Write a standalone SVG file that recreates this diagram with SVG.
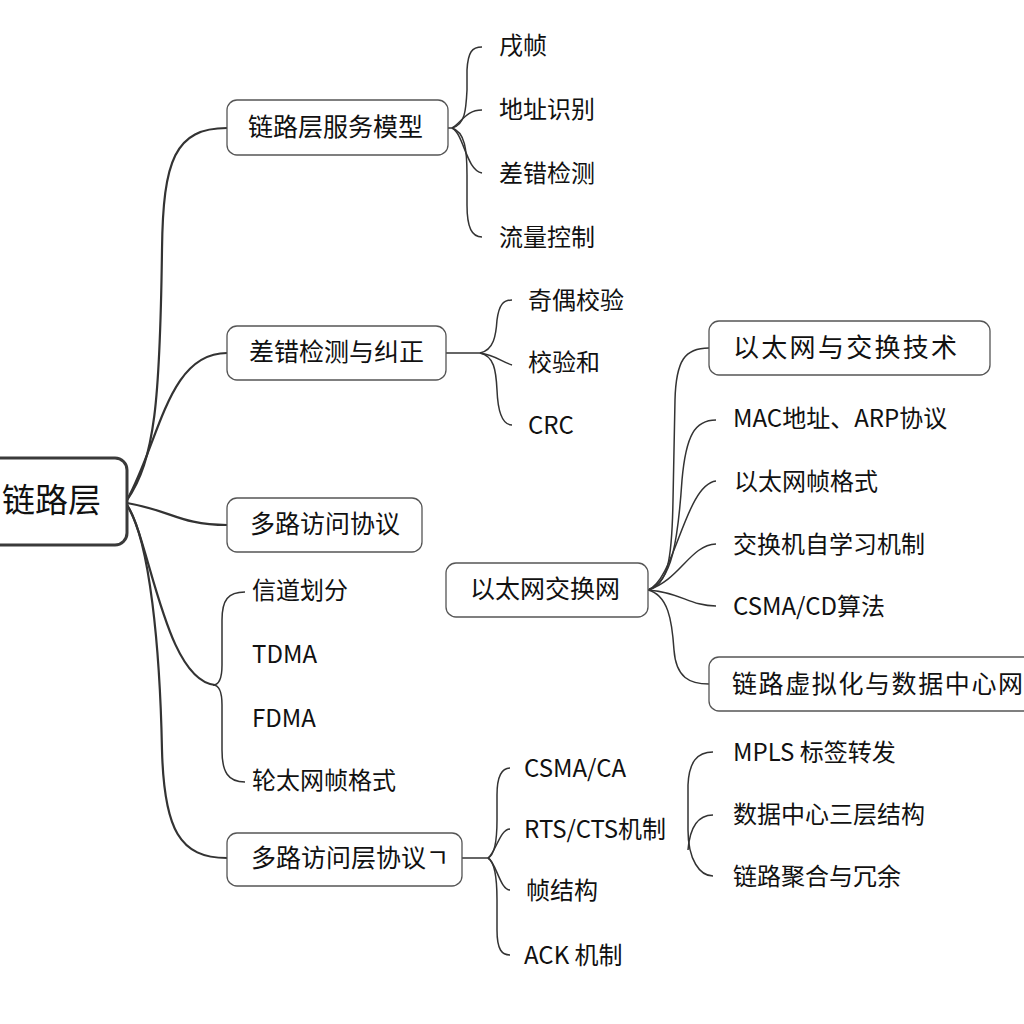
<svg xmlns="http://www.w3.org/2000/svg" width="1024" height="1024" viewBox="0 0 1024 1024">
<style>
text{font-family:"Noto Sans CJK SC","Noto Sans",sans-serif;fill:#111;dominant-baseline:central}
.box{fill:#fff;stroke:#555;stroke-width:1.3}
.root{fill:#fff;stroke:#3a3a3a;stroke-width:3}
.c1{fill:none;stroke:#333;stroke-width:2.2}
.c2{fill:none;stroke:#333;stroke-width:1.5}
.t1{font-size:25px}
.t2{font-size:24px}
</style>
<rect width="1024" height="1024" fill="#fff"/>
<g id="connectors">
<path class="c1" d="M127,500 C155,460 160,400 162,250 C163,160 175,128 227,128"/>
<path class="c1" d="M127,500 C160,440 168,353 227,353"/>
<path class="c1" d="M127,503 C170,510 180,525 227,525"/>
<path class="c1" d="M127,505 C150,540 165,680 215,685"/>
<path class="c1" d="M127,505 C150,540 160,650 162,750 C164,830 180,858 227,858"/>
<path class="c2" d="M448,128 L453,128"/>
<path class="c2" d="M452,128 C465,125 466,110 467,90 L467,70 C468,52 472,47 482,47"/>
<path class="c2" d="M452,128 C462,122 466,110 482,110"/>
<path class="c2" d="M452,128 C464,134 466,170 482,173"/>
<path class="c2" d="M452,128 C465,132 467,150 467,175 L467,205 C467,228 472,237 482,237"/>
<path class="c2" d="M446,353 L482,353"/>
<path class="c2" d="M480,353 C494,350 496,335 497,320 C499,305 503,300 512,300"/>
<path class="c2" d="M480,353 C495,355 502,362 512,365"/>
<path class="c2" d="M480,353 C494,356 496,370 497,390 C498,415 503,425 512,425"/>
<path class="c2" d="M245,592 C228,592 222,600 222,620 L222,665 C222,680 218,685 213,685 C218,685 222,690 222,705 L222,750 C222,772 228,782 245,782"/>
<path class="c2" d="M462,858 L488,858"/>
<path class="c2" d="M488,858 C495,855 497,840 497,820 L497,795 C497,775 502,768 510,768"/>
<path class="c2" d="M488,858 C496,852 500,829 510,829"/>
<path class="c2" d="M488,858 C496,862 500,890 510,890"/>
<path class="c2" d="M488,858 C495,862 497,880 497,900 L497,930 C497,950 502,955 510,955"/>
<path class="c2" d="M648,590 C668,585 672,560 673,500 L675,400 C676,360 685,348 709,348"/>
<path class="c2" d="M648,590 C672,582 678,540 682,480 C686,435 695,420 716,420"/>
<path class="c2" d="M648,590 C675,580 685,485 716,481"/>
<path class="c2" d="M648,590 C680,580 690,545 716,544"/>
<path class="c2" d="M648,590 C680,592 690,606 716,606"/>
<path class="c2" d="M648,590 C668,595 672,620 674,650 C676,678 690,684 709,684"/>
<path class="c2" d="M713,752 C697,752 689,762 688,785 L688,830 C688,860 700,876 713,876"/>
<path class="c2" d="M688,850 C690,825 700,815 713,815"/>
</g>
<g id="root"><rect class="root" x="-12" y="458" width="139" height="87" rx="12"/><text x="2" y="498" style="font-size:33px">链路层</text></g>
<g id="n1"><rect class="box" x="227" y="100" width="221" height="55" rx="10"/><text class="t1" x="248" y="125">链路层服务模型</text></g>
<g id="n1a"><text class="t2" x="499" y="43">戌帧</text></g>
<g id="n1b"><text class="t2" x="499" y="107">地址识别</text></g>
<g id="n1c"><text class="t2" x="499" y="171">差错检测</text></g>
<g id="n1d"><text class="t2" x="499" y="235">流量控制</text></g>
<g id="n2"><rect class="box" x="227" y="326" width="219" height="54" rx="10"/><text class="t1" x="249" y="350">差错检测与纠正</text></g>
<g id="n2a"><text class="t2" x="528" y="298">奇偶校验</text></g>
<g id="n2b"><text class="t2" x="528" y="360">校验和</text></g>
<g id="n2c"><text class="t2" x="528" y="423">CRC</text></g>
<g id="n3"><rect class="box" x="227" y="498" width="195" height="54" rx="10"/><text class="t1" x="250" y="522">多路访问协议</text></g>
<g id="n4a"><text class="t2" x="252" y="588">信道划分</text></g>
<g id="n4b"><text class="t2" x="252" y="652">TDMA</text></g>
<g id="n4c"><text class="t2" x="252" y="716">FDMA</text></g>
<g id="n4d"><text class="t2" x="252" y="778">轮太网帧格式</text></g>
<g id="n5"><rect class="box" x="227" y="833" width="235" height="53" rx="10"/><text class="t1" x="251" y="856">多路访问层协议ㄱ</text></g>
<g id="n5a"><text class="t2" x="524" y="766">CSMA/CA</text></g>
<g id="n5b"><text class="t2" x="524" y="827">RTS/CTS机制</text></g>
<g id="n5c"><text class="t2" x="526" y="888">帧结构</text></g>
<g id="n5d"><text class="t2" x="524" y="953">ACK 机制</text></g>
<g id="n6"><rect class="box" x="446" y="563" width="202" height="54" rx="10"/><text class="t1" x="470" y="587">以太网交换网</text></g>
<g id="n6a"><rect class="box" x="709" y="321" width="281" height="54" rx="10"/><text x="733" y="345" style="font-size:26px;letter-spacing:2.3px">以太网与交换技术</text></g>
<g id="n6b"><text class="t2" x="733" y="416">MAC地址、ARP协议</text></g>
<g id="n6c"><text class="t2" x="734" y="479">以太网帧格式</text></g>
<g id="n6d"><text class="t2" x="733" y="542">交换机自学习机制</text></g>
<g id="n6e"><text class="t2" x="733" y="604">CSMA/CD算法</text></g>
<g id="n6f"><rect class="box" x="709" y="657" width="330" height="54" rx="10"/><text x="732" y="682" style="font-size:25px;letter-spacing:1.6px">链路虚拟化与数据中心网</text></g>
<g id="n7a"><text class="t2" x="733" y="750">MPLS 标签转发</text></g>
<g id="n7b"><text class="t2" x="733" y="812">数据中心三层结构</text></g>
<g id="n7c"><text class="t2" x="733" y="874">链路聚合与冗余</text></g>
</svg>
